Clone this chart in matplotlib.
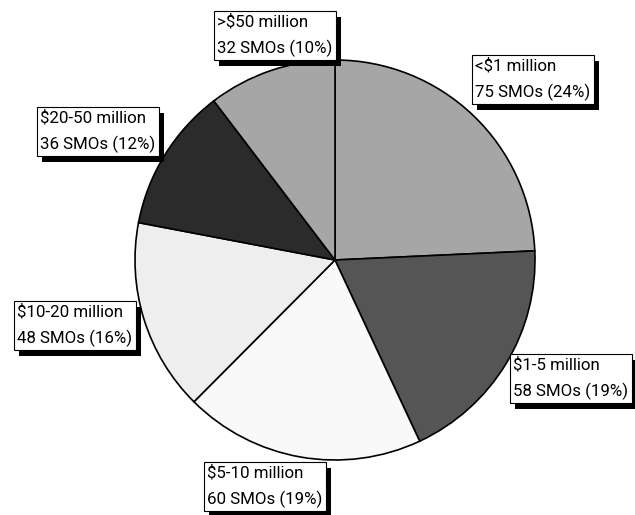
import matplotlib.pyplot as plt
import matplotlib.patheffects as pe

categories = ["<$1 million", "$1-5 million", "$5-10 million",
              "$10-20 million", "$20-50 million", ">$50 million"]
smo_counts = [75, 58, 60, 48, 36, 32]
percent_labels = ["24%", "19%", "19%", "16%", "12%", "10%"]

colors = ["#a6a6a6", "#555555", "#f9f9f9", "#eeeeee", "#2b2b2b", "#a6a6a6"]
# top-left corner of each label box, in pixel coords (y from top)
label_pos = [(475, 58), (513, 357), (207, 465), (17, 304), (40, 110), (217, 14)]

plt.rcParams['font.family'] = ['Roboto', 'DejaVu Sans']

H = 515
fig = plt.figure(figsize=(6.35, 5.15), dpi=100)
ax = fig.add_axes([0, 0, 1, 1])

ax.pie(smo_counts, colors=colors, startangle=90, counterclock=False,
       center=(335, H - 260), radius=200, frame=True,
       wedgeprops=dict(edgecolor='black', linewidth=1.2))
ax.set_xlim(0, 635)
ax.set_ylim(0, H)
ax.set_aspect('equal')
ax.axis('off')

for cat, n, pct, (x, y) in zip(categories, smo_counts, percent_labels, label_pos):
    t = ax.text(x, H - y, f"{cat}\n{n} SMOs ({pct})", ha='left', va='top',
                fontsize=12.2, linespacing=1.75,
                bbox=dict(boxstyle='square,pad=0.2', facecolor='white',
                          edgecolor='black', linewidth=0.8))
    t.get_bbox_patch().set_path_effects([
        pe.SimplePatchShadow(offset=(4, -4), shadow_rgbFace='black', alpha=1),
        pe.Normal()])

fig.savefig("out.png", dpi=100)
